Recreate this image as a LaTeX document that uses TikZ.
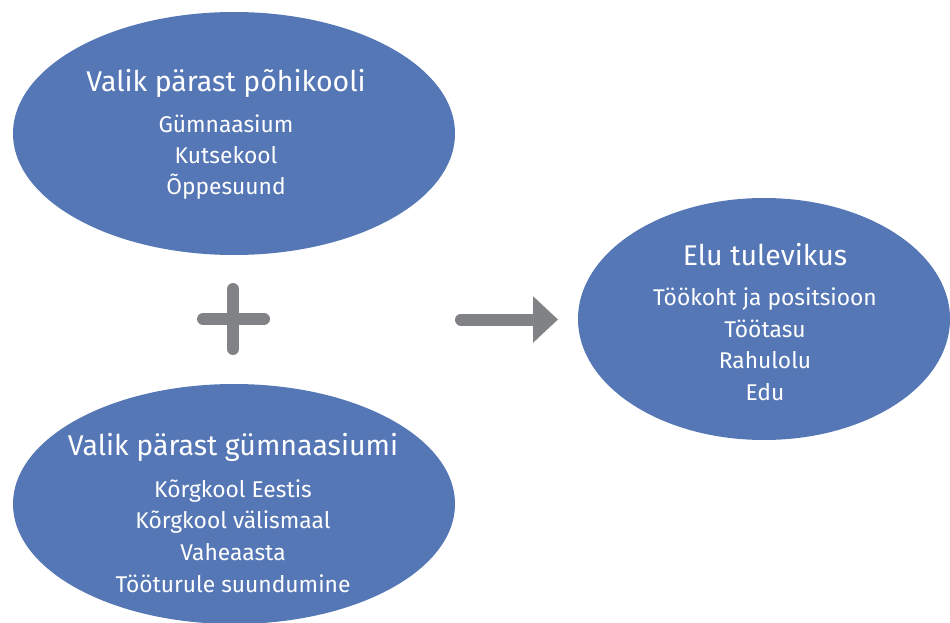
\documentclass[tikz,border=0pt]{standalone}
\usepackage{fontspec}
\setmainfont{Fira Sans}
\usetikzlibrary{shapes.geometric,arrows.meta}
\definecolor{ellblue}{RGB}{86,119,181}
\definecolor{symgray}{RGB}{128,130,133}
\tikzset{
  bubble/.style={ellipse, fill=ellblue, draw=none, inner sep=0pt},
  ttl/.style={anchor=base, text=white, inner sep=0pt, font=\fontsize{28.5}{32}\selectfont},
  itm/.style={anchor=base, text=white, inner sep=0pt, font=\fontsize{22.8}{26}\selectfont},
  sym/.style={draw=symgray, line width=12pt, line cap=round}
}
\begin{document}
\begin{tikzpicture}[x=1pt,y=-1pt]
\useasboundingbox (0,0) rectangle (950,623);
% ellipses
\node[bubble, minimum width=442pt, minimum height=243pt] (top) at (234,133.5) {};
\node[bubble, minimum width=442pt, minimum height=240pt] (bot) at (234,504) {};
\node[bubble, minimum width=372pt, minimum height=242pt] (right) at (764,319) {};
% top texts
\node[ttl] (t0) at (226,92) {Valik pärast põhikooli};
\node[itm] (t1) at (226,132) {Gümnaasium};
\node[itm] (t2) at (226,163) {Kutsekool};
\node[itm] (t3) at (226,194) {Õppesuund};
% bottom texts
\node[ttl] (b0) at (233,455) {Valik pärast gümnaasiumi};
\node[itm] (b1) at (233,497) {Kõrgkool Eestis};
\node[itm] (b2) at (233,528) {Kõrgkool välismaal};
\node[itm] (b3) at (233,560) {Vaheaasta};
\node[itm] (b4) at (233,592) {Tööturule suundumine};
% right texts
\node[ttl] (r0) at (765,265) {Elu tulevikus};
\node[itm] (r1) at (765,305) {Töökoht ja positsioon};
\node[itm] (r2) at (765,337) {Töötasu};
\node[itm] (r3) at (765,368) {Rahulolu};
\node[itm] (r4) at (765,400) {Edu};
% plus sign
\coordinate (pl) at (203,319);
\coordinate (pr) at (264,319);
\coordinate (pt) at (233,289);
\coordinate (pb) at (233,349);
\draw[sym] (pl) -- (pr);
\draw[sym] (pt) -- (pb);
% arrow
\coordinate (as) at (461,319.5);
\coordinate (ae) at (558,319.5);
\draw[sym, -{Triangle[length=25pt,width=45pt]}, symgray] (as) -- (ae);
\end{tikzpicture}
\end{document}
